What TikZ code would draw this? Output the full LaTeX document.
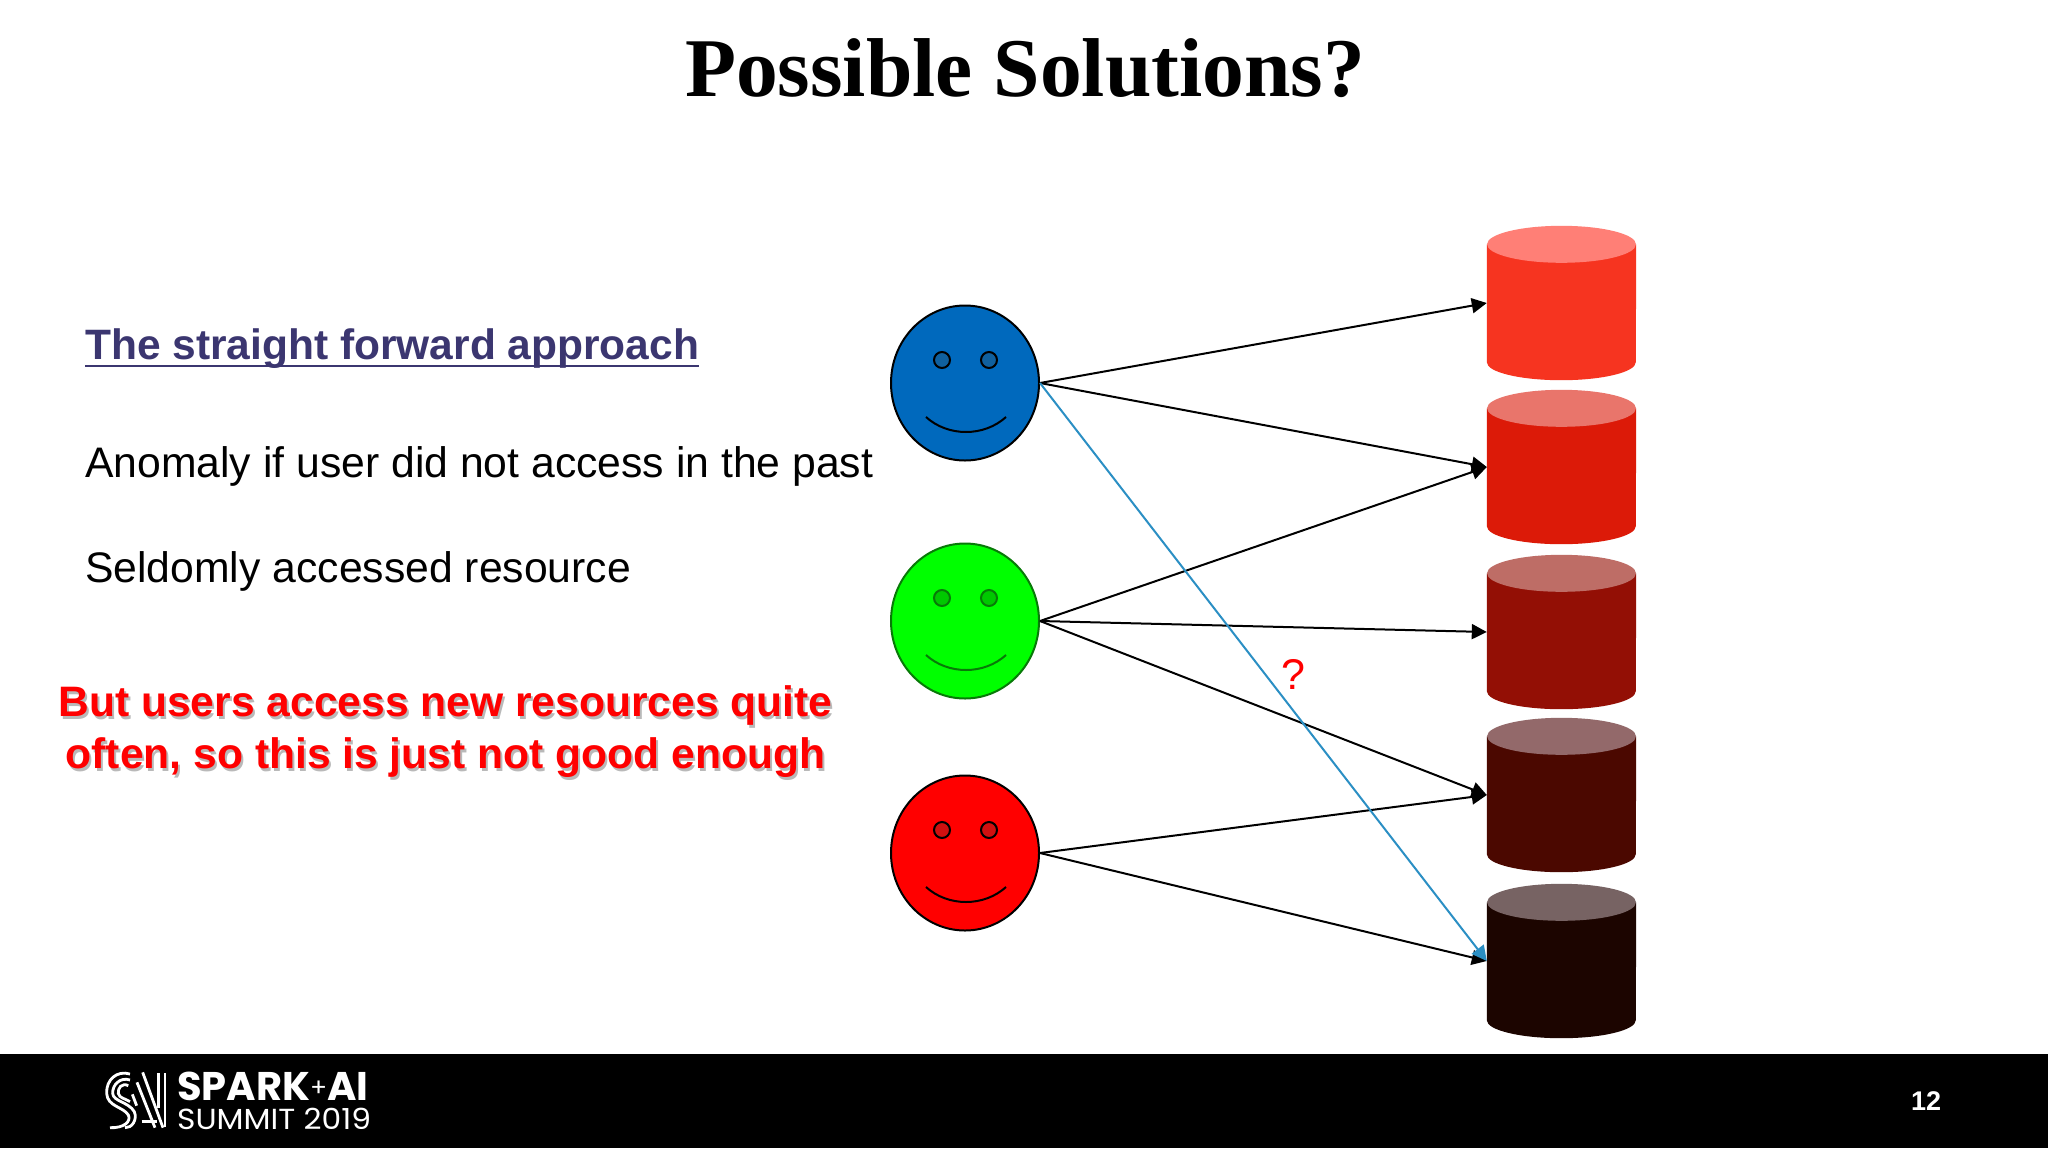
\documentclass[tikz,border=0pt]{standalone}
\usepackage{fontspec}
\setmainfont{Liberation Sans}
\newfontfamily\titlefont{Liberation Serif}
\newfontfamily\logofont{Poppins}
\usetikzlibrary{shapes.geometric,arrows.meta}
\definecolor{linkblue}{HTML}{2B8FC4}
\definecolor{headcol}{HTML}{3B3670}
\definecolor{ca}{HTML}{F63420}\definecolor{ta}{HTML}{FF7F76}
\definecolor{cb}{HTML}{DC1A08}\definecolor{tb}{HTML}{E9756B}
\definecolor{cc}{HTML}{930F05}\definecolor{tc}{HTML}{BE6D66}
\definecolor{cd}{HTML}{4B0800}\definecolor{td}{HTML}{93696A}
\definecolor{ce}{HTML}{1C0500}\definecolor{te}{HTML}{776363}
\definecolor{fblue}{HTML}{0069BD}\definecolor{fgreen}{HTML}{00FF00}\definecolor{fred}{HTML}{FF0000}
\definecolor{eblue}{HTML}{10609E}\definecolor{egreen}{HTML}{00C800}\definecolor{ered}{HTML}{D01010}
\definecolor{lgreen}{HTML}{087A08}
\newcommand{\dbdraw}[4]{%
  \node[dbbox] (#1) at (1561.5,#4) {};
  \fill[#2] (#1.north west) ++(0,-18.5pt) -- ([yshift=18pt]#1.south west)
    arc[start angle=180,end angle=360,x radius=74.5pt,y radius=18pt]
    -- ([yshift=-18.5pt]#1.north east) -- cycle;
  \fill[#3] ([yshift=-18.5pt]#1.north) ellipse[x radius=74.5pt,y radius=18.5pt];
}
\tikzset{
  x=1pt,y=-1pt,
  face/.style={ellipse,draw=#1,line width=2pt,minimum width=148pt,minimum height=155pt,inner sep=0pt},
  eye/.style={circle,line width=2pt,minimum size=16pt,inner sep=0pt},
  dbbox/.style={rectangle,minimum width=149pt,minimum height=154pt,inner sep=0pt},
  link/.style={line width=2pt,-{Triangle[length=15pt,width=15pt]}},
  body/.style={anchor=base west,inner sep=0pt,font=\fontsize{42.7}{50}\selectfont},
  warn/.style={anchor=base,inner sep=0pt,align=center,font=\fontsize{42.6}{52}\selectfont\bfseries},
  logoline/.style={white,line width=2.8pt}
}
\begin{document}
\begin{tikzpicture}
\useasboundingbox (0,0) rectangle (2048,1152);
\fill[white] (0,0) rectangle (2048,1152);
\fill[black] (0,1054) rectangle (2048,1148);
% title
\node[inner sep=0pt,anchor=base] (title) at (1025,96.5) {\titlefont\fontsize{83.5}{90}\selectfont\bfseries Possible Solutions?};
% left text
\node[body,text=headcol,font=\fontsize{42.5}{50}\selectfont\bfseries] (head) at (85,359) {The straight forward approach};
\draw[headcol,line width=2.8pt] ([yshift=-7pt]head.base west) -- ([yshift=-7pt]head.base east);
\node[body] (t1) at (85,477) {Anomaly if user did not access in the past};
\node[body] (t2) at (85,582) {Seldomly accessed resource};
\node[warn,text=black!50,opacity=.55] (w1s) at (447.5,719) {But users access new resources quite};
\node[warn,text=black!50,opacity=.55] (w2s) at (447.5,771) {often, so this is just not good enough};
\node[warn,text=red] (w1) at (445.5,716) {But users access new resources quite};
\node[warn,text=red] (w2) at (445.5,768) {often, so this is just not good enough};
% databases
\dbdraw{c1}{ca}{ta}{303}
\dbdraw{c2}{cb}{tb}{467}
\dbdraw{c3}{cc}{tc}{632}
\dbdraw{c4}{cd}{td}{795}
\dbdraw{c5}{ce}{te}{961}
% faces
\node[face=black,fill=fblue] (f1) at (965,383) {};
\node[face=lgreen,fill=fgreen] (f2) at (965,621) {};
\node[face=black,fill=fred] (f3) at (965,853) {};
\foreach \f/\c/\l in {f1/eblue/black,f2/egreen/lgreen,f3/ered/black}{
  \node[eye,draw=\l,fill=\c] (\f le) at ([shift={(-23,-23)}]\f.center) {};
  \node[eye,draw=\l,fill=\c] (\f re) at ([shift={(24,-23)}]\f.center) {};
  \coordinate (\f sl) at ([shift={(-39,34)}]\f.center);
  \coordinate (\f sr) at ([shift={(41,34)}]\f.center);
  \draw[line width=2pt,\l] (\f sl) .. controls ([shift={(22,20)}]\f sl) and ([shift={(-22,20)}]\f sr) .. (\f sr);
}
% links
\draw[link] (f1.east) -- (c1.west);
\draw[link] (f1.east) -- (c2.west);
\draw[link] (f2.east) -- (c2.west);
\draw[link] (f2.east) -- (c3.west);
\draw[link] (f2.east) -- (c4.west);
\draw[link] (f3.east) -- (c4.west);
\draw[link] (f3.east) -- (c5.west);
\draw[link,linkblue] (f1.east) -- (c5.west);
\node[inner sep=0pt,text=red,anchor=base,font=\fontsize{43}{50}\selectfont] (q) at (1293,689) {?};
% footer logo mark
\begin{scope}[shift={(95,1065)},x=0.3333pt,y=-0.3333pt]
  \draw[logoline] (105,27) .. controls (65,15) and (33,45) .. (35,85) .. controls (37,125) and (85,125) .. (100,150) .. controls (110,170) and (85,190) .. (45,188);
  \draw[logoline] (105,45) .. controls (75,35) and (52,60) .. (53,85) .. controls (55,110) and (100,110) .. (118,140) .. controls (128,165) and (110,190) .. (90,188);
  \draw[logoline] (100,62) .. controls (80,52) and (68,70) .. (70,85) .. controls (73,100) and (90,100) .. (105,110);
  \draw[logoline] (143,22) -- (204,188);
  \draw[logoline] (126,52) -- (180,188);
  \draw[logoline] (112,88) -- (125,122);
  \draw[logoline] (190,25) -- (190,130);
  \draw[logoline] (210,25) -- (210,185);
  \draw[logoline] (140,170) -- (186,170);
\end{scope}
\node[inner sep=0pt,anchor=base west,text=white,font=\logofont\fontsize{40}{40}\selectfont\bfseries] (l1) at (177,1100) {SPARK\raisebox{4pt}{\fontsize{25}{26}\selectfont\mdseries+}AI};
\node[inner sep=0pt,anchor=base west,text=white,font=\logofont\fontsize{29}{30}\selectfont] (l2) at (177,1129.5) {\scalebox{1.08}[1]{SUMMIT 2019}};
\node[inner sep=0pt,text=white,font=\fontsize{27}{30}\selectfont\bfseries] (pg) at (1926,1101) {12};
\end{tikzpicture}
\end{document}
